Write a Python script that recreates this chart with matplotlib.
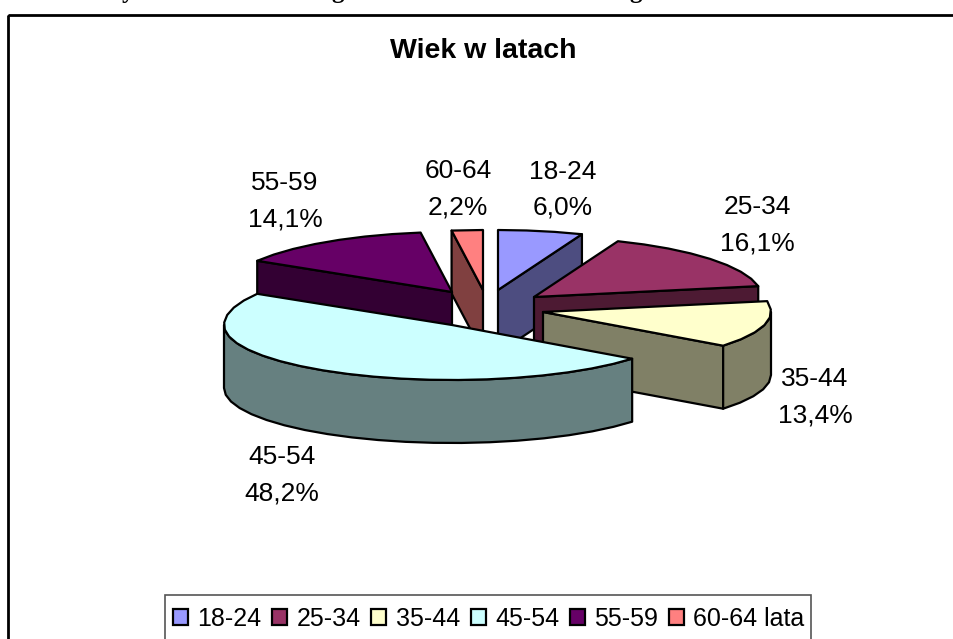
import matplotlib
matplotlib.use("Agg")
import matplotlib.pyplot as plt
import numpy as np
from matplotlib.patches import Polygon, Patch, Rectangle

# ==============================
# Data
# ==============================
categories = ["18-24", "25-34", "35-44", "45-54", "55-59", "60-64"]
shares = [6.0, 16.1, 13.4, 48.2, 14.1, 2.2]
legend_labels = ["18-24", "25-34", "35-44", "45-54", "55-59", "60-64 lata"]
title = "Wiek w latach"

# ==============================
# Style (pixel coordinates of the page)
# ==============================
colors = ["#9999FF", "#993366", "#FFFFCC", "#CCFFFF", "#660066", "#FF8080"]
shades = ["#4D4D80", "#4D1A33", "#808066", "#668080", "#330033", "#804040"]
apex = [(498, 290), (534, 297), (543, 312), (452, 325), (452, 292), (483, 290)]
label_pos = [(563, 172), (757, 207), (815, 379), (282, 457), (285, 183), (458, 171)]
draw_order = [0, 1, 5, 4, 2, 3]
rx, ry_back, ry_front, depth = 228, 60, 55, 63
edge_lw = 1.6

plt.rcParams["font.family"] = ["Liberation Sans", "DejaVu Sans"]

fig = plt.figure(figsize=(9.54, 6.39), dpi=100)
ax = fig.add_axes([0, 0, 1, 1])
ax.set_xlim(0, 954)
ax.set_ylim(639, 0)
ax.axis("off")

# outer frame runs off the page on the right and at the bottom
ax.add_patch(Rectangle((8, 15), 1000, 700, fill=False, edgecolor="black", linewidth=2))

# caption of the page, cut off at the top edge: only descenders remain
for x, ch in zip([128, 338, 636], "ygg"):
    ax.text(x, -2, ch, family="Liberation Serif", weight="bold", fontsize=18,
            ha="center", va="baseline", clip_on=False)


def rim_point(c, theta, drop=0):
    # theta in degrees, clockwise from 12 o'clock; slightly flatter towards the viewer
    t = np.radians(theta)
    ry = np.where(np.cos(t) > 0, ry_back, ry_front)
    return np.column_stack([c[0] + rx * np.sin(t), c[1] - ry * np.cos(t) + drop])


def arc_angles(a0, a1):
    # coarse facets, the original pie edge is not smooth
    return np.linspace(a0, a1, max(2, int((a1 - a0) / 7) + 1))


# ==============================
# Slices: angles come from the shares
# ==============================
ends = np.cumsum(shares) / np.sum(shares) * 360
starts = np.concatenate([[0], ends[:-1]])

for i in draw_order:
    c, a0, a1 = apex[i], starts[i], ends[i]

    # radial walls, only the ones facing the viewer
    for theta, visible in [(a1, np.sin(np.radians(a1)) > 0), (a0, np.sin(np.radians(a0)) < 0)]:
        if visible:
            p = rim_point(c, theta)[0]
            wall = [c, p, (p[0], p[1] + depth), (c[0], c[1] + depth)]
            ax.add_patch(Polygon(wall, facecolor=shades[i], edgecolor="black",
                                 linewidth=edge_lw, joinstyle="round"))

    # outer wall, front half of the rim
    lo, hi = max(a0, 90), min(a1, 270)
    if lo < hi:
        front = arc_angles(lo, hi)
        pts = np.vstack([rim_point(c, front), rim_point(c, front[::-1], depth)])
        ax.add_patch(Polygon(pts, facecolor=shades[i], edgecolor="black",
                             linewidth=edge_lw, joinstyle="round"))

    # top face
    pts = np.vstack([[c], rim_point(c, arc_angles(a0, a1))])
    ax.add_patch(Polygon(pts, facecolor=colors[i], edgecolor="black",
                         linewidth=edge_lw, joinstyle="round"))

# ==============================
# Texts
# ==============================
ax.text(483, 51, title, fontsize=20.5, weight="bold", ha="center", va="center")

for (x, y), cat, val in zip(label_pos, categories, shares):
    ax.text(x, y, cat, fontsize=19, ha="center", va="center")
    ax.text(x, y + 36, f"{val:.1f}%".replace(".", ","), fontsize=19, ha="center", va="center")

# ==============================
# Legend (its box also runs off the page at the bottom)
# ==============================
ax.add_patch(Rectangle((165, 595), 646, 100, facecolor="white", edgecolor="#555555", linewidth=1.2))
handles = [Patch(facecolor=col, edgecolor="black", linewidth=1.6) for col in colors]
leg = ax.legend(handles, legend_labels, ncol=6, loc="upper left",
                bbox_to_anchor=(173, 607), bbox_transform=ax.transData,
                fontsize=18, frameon=False, borderaxespad=0, borderpad=0,
                handlelength=0.6, handleheight=0.6, handletextpad=0.38,
                columnspacing=0.42)

fig.savefig("out.png", dpi=100)
